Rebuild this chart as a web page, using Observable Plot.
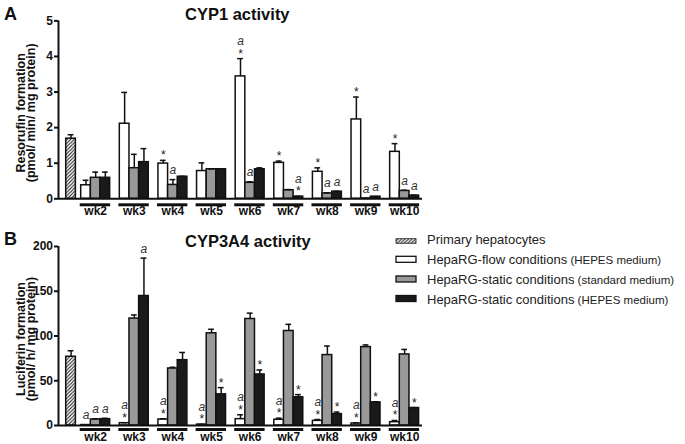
<!DOCTYPE html>
<html><head><meta charset="utf-8">
<script src="https://cdn.jsdelivr.net/npm/d3@7"></script>
<script src="https://cdn.jsdelivr.net/npm/@observablehq/plot@0.6"></script>
<style>
body{margin:0;background:#fff;font-family:"Liberation Sans",Arial,Helvetica,sans-serif;}
#fig{position:relative;width:685px;height:444px;overflow:hidden;background:#fff;}
#fig > svg{position:absolute;left:0;}
</style></head><body><div id="fig"></div>
<script>
// ---------- data ----------
const weeks = ["wk2","wk3","wk4","wk5","wk6","wk7","wk8","wk9","wk10"];
const seriesKeys = ["primary","flow","std","hepes"];
const legendNames = ["Primary hepatocytes","HepaRG-flow conditions","HepaRG-static conditions","HepaRG-static conditions"];
const legendMedia = ["","(HEPES medium)","(standard medium)","(HEPES medium)"];

// Panel A: CYP1 activity (pmol/ min/ mg protein)
const cyp1Title = "CYP1 activity";
const cyp1YLabel = ["Resorufin formation", "(pmol/ min/ mg protein)"];
const cyp1PrimaryMean = [1.69];
const cyp1PrimaryErr  = [0.11];
const cyp1Flow     = [0.38, 2.11, 0.99, 0.78, 3.44, 1.01, 0.76, 2.23, 1.32];
const cyp1FlowErr  = [0.14, 0.88, 0.09, 0.23, 0.50, 0.05, 0.11, 0.63, 0.23];
const cyp1Std      = [0.59, 0.86, 0.39, 0.83, 0.45, 0.24, 0.15, 0.01, 0.22];
const cyp1StdErr   = [0.16, 0.39, 0.15, 0.01, 0.03, 0.02, 0.02, 0.00, 0.02];
const cyp1Hepes    = [0.59, 1.03, 0.62, 0.83, 0.83, 0.06, 0.20, 0.06, 0.09];
const cyp1HepesErr = [0.16, 0.38, 0.01, 0.00, 0.04, 0.01, 0.01, 0.00, 0.01];
const cyp1FlowSig  = ["", "", "*", "", "a*", "*", "*", "*", "*"];
const cyp1StdSig   = ["", "", "a", "", "a", "", "a", "a", "a"];
const cyp1HepesSig = ["", "", "", "", "", "a*", "a", "a", "a"];
const cyp1Ticks = [0, 1, 2, 3, 4, 5];

// Panel B: CYP3A4 activity (pmol/ h/ mg protein)
const cyp3a4Title = "CYP3A4 activity";
const cyp3a4YLabel = ["Luciferin formation", "(pmol/ h/ mg protein)"];
const cyp3a4PrimaryMean = [76.8];
const cyp3a4PrimaryErr  = [6.7];
const cyp3a4Flow     = [0.5, 2.6, 6.7, 1.0, 7.1, 6.4, 5.2, 2.2, 3.7];
const cyp3a4FlowErr  = [0.2, 0.5, 0.8, 0.3, 4.9, 1.8, 1.5, 0.8, 1.9];
const cyp3a4Std      = [6.7, 119.5, 63.7, 103, 119, 105.6, 78.7, 87.6, 79.4];
const cyp3a4StdErr   = [0.8, 4.0, 1.3, 4.5, 6.5, 7.4, 10.1, 2.4, 5.6];
const cyp3a4Hepes    = [7.1, 144.7, 73, 34.8, 57, 31.5, 12.7, 25.8, 19.5];
const cyp3a4HepesErr = [0.9, 42.3, 8.6, 7.5, 5.0, 3.0, 2.3, 0.7, 0.5];
const cyp3a4FlowSig  = ["a", "a*", "a*", "a*", "a*", "a*", "a*", "a*", "a*"];
const cyp3a4StdSig   = ["a", "", "", "", "", "", "", "", ""];
const cyp3a4HepesSig = ["a", "a", "", "*", "*", "*", "*", "*", "*"];
const cyp3a4Ticks = [0, 50, 100, 150, 200];

// ---------- layout / style ----------
const FONT = '"Liberation Sans", Arial, Helvetica, sans-serif';
const PRIMARY_START = 0.8, GROUP_START = 2.35, GROUP_STEP = 4, X_MAX = 37.7;
const FILLS = {primary: "url(#hatch)", flow: "#ffffff", std: "#999999", hepes: "#1a1a1a"};
const INK = "#111";

function buildRows(pm, pe, means, errs, sigs) {
  const rows = [{series: "primary", x1: PRIMARY_START, x2: PRIMARY_START + 1, value: pm[0], err: pe[0], sig: ""}];
  weeks.forEach((w, k) => {
    for (let j = 0; j < 3; j++) {
      const s = GROUP_START + GROUP_STEP * k + j;
      rows.push({series: seriesKeys[j + 1], week: w, x1: s, x2: s + 1, value: means[j][k], err: errs[j][k], sig: sigs[j][k]});
    }
  });
  return rows;
}

function panel(cfg) {
  const rows = buildRows(cfg.pm, cfg.pe, cfg.means, cfg.errs, cfg.sigs);
  const groups = weeks.map((w, k) => ({week: w, start: GROUP_START + GROUP_STEP * k}));
  const cx = d => (d.x1 + d.x2) / 2;
  const top = d => d.value + d.err;
  const yMax = cfg.ticks[cfg.ticks.length - 1];
  const barMarks = seriesKeys.map(s =>
    Plot.rectY(rows.filter(d => d.series === s), {x1: "x1", x2: "x2", y1: 0, y2: "value", fill: FILLS[s], stroke: INK, strokeWidth: 1.5})
  );
  const labelStyle = {frameAnchor: "left", rotate: -90, dy: 3, lineAnchor: "bottom", textAnchor: "middle", fontSize: 12.5, fontWeight: "bold", fill: INK};
  return Plot.plot({
    width: 685, height: cfg.height,
    marginLeft: 58, marginRight: 263, marginTop: cfg.marginTop, marginBottom: cfg.marginBottom,
    x: {domain: [0, X_MAX], axis: null},
    y: {domain: [0, yMax], axis: null},
    style: {fontFamily: FONT, overflow: "visible", background: "transparent", color: INK},
    marks: [
      Plot.axisY({ticks: cfg.ticks, tickFormat: d3.format("d"), tickSize: 4, tickPadding: 1.5, fontSize: 12, fontWeight: "bold", strokeWidth: 2, label: null}),
      Plot.text([cfg.ylabel[0]], {...labelStyle, dx: -34}),
      Plot.text([cfg.ylabel[1]], {...labelStyle, dx: -23.5}),
      ...barMarks,
      Plot.ruleX(rows, {x: cx, y1: "value", y2: top, stroke: INK, strokeWidth: 1.5}),
      Plot.ruleY(rows, {x1: d => cx(d) - 0.3, x2: d => cx(d) + 0.3, y: top, stroke: INK, strokeWidth: 1.5}),
      Plot.ruleX([0], {y1: 0, y2: yMax, stroke: INK, strokeWidth: 2}),
      Plot.ruleY([0], {stroke: INK, strokeWidth: 2}),
      Plot.text(rows.filter(d => d.sig.includes("*")), {x: cx, y: top, text: () => "*", dy: -1, lineAnchor: "bottom", fontSize: 12, fill: "#222"}),
      Plot.text(rows.filter(d => d.sig === "a"), {x: cx, y: top, text: () => "a", dy: -5.5, lineAnchor: "bottom", fontSize: 12, fontStyle: "italic", fill: "#333"}),
      Plot.text(rows.filter(d => d.sig === "a*"), {x: cx, y: top, text: () => "a", dy: -13.5, lineAnchor: "bottom", fontSize: 12, fontStyle: "italic", fill: "#333"}),
      Plot.ruleY(groups, {x1: d => d.start - 0.1, x2: d => d.start + 3.05, y: 0, dy: cfg.underDy, stroke: INK, strokeWidth: 3}),
      Plot.text(groups, {x: d => d.start + 1.5, y: 0, text: "week", dy: cfg.weekDy, lineAnchor: "middle", fontSize: 12, fontWeight: "bold", fill: INK})
    ]
  });
}

const fig = document.getElementById("fig");

const chartA = panel({
  pm: cyp1PrimaryMean, pe: cyp1PrimaryErr,
  means: [cyp1Flow, cyp1Std, cyp1Hepes], errs: [cyp1FlowErr, cyp1StdErr, cyp1HepesErr], sigs: [cyp1FlowSig, cyp1StdSig, cyp1HepesSig],
  ticks: cyp1Ticks, height: 220, marginTop: 20.4, marginBottom: 21.7, underDy: 6, weekDy: 12,
  ylabel: cyp1YLabel
});
chartA.style.top = "0px";
fig.appendChild(chartA);

const chartB = panel({
  pm: cyp3a4PrimaryMean, pe: cyp3a4PrimaryErr,
  means: [cyp3a4Flow, cyp3a4Std, cyp3a4Hepes], errs: [cyp3a4FlowErr, cyp3a4StdErr, cyp3a4HepesErr], sigs: [cyp3a4FlowSig, cyp3a4StdSig, cyp3a4HepesSig],
  ticks: cyp3a4Ticks, height: 224, marginTop: 26, marginBottom: 19, underDy: 4, weekDy: 11.5,
  ylabel: cyp3a4YLabel
});
chartB.style.top = "220px";
fig.appendChild(chartB);

// ---------- overlay: pattern, panel letters, titles, legend ----------
const ov = d3.select(fig).append("svg")
  .attr("width", 685).attr("height", 444)
  .style("top", "0px").style("pointer-events", "none")
  .style("font-family", FONT);
const pat = ov.append("defs").append("pattern")
  .attr("id", "hatch").attr("patternUnits", "userSpaceOnUse")
  .attr("width", 3.5).attr("height", 3.5);
pat.append("rect").attr("width", 3.5).attr("height", 3.5).attr("fill", "#fff");
pat.append("path").attr("d", "M-1,1 l2,-2 M0,3.5 l3.5,-3.5 M2.5,4.5 l2,-2")
  .attr("stroke", "#111").attr("stroke-width", 1);

ov.append("text").attr("x", 4).attr("y", 20).attr("font-size", 18).attr("font-weight", "bold").attr("fill", INK).text("A");
ov.append("text").attr("x", 4).attr("y", 245).attr("font-size", 18).attr("font-weight", "bold").attr("fill", INK).text("B");
ov.append("text").attr("x", 185).attr("y", 20).attr("font-size", 16.5).attr("font-weight", "bold").attr("fill", INK).text(cyp1Title);
ov.append("text").attr("x", 185).attr("y", 247).attr("font-size", 16.5).attr("font-weight", "bold").attr("fill", INK).text(cyp3a4Title);

const legendBaselines = [243.5, 264, 284, 304];
const swatchCenters = [241, 259.3, 279, 298.5];
seriesKeys.forEach((s, i) => {
  const h = i === 0 ? 4.5 : 6;
  ov.append("rect").attr("x", 396).attr("y", swatchCenters[i] - h / 2).attr("width", 20).attr("height", h)
    .attr("fill", FILLS[s]).attr("stroke", INK).attr("stroke-width", i === 0 ? 0.8 : 1.3);
  const t = ov.append("text").attr("x", 427).attr("y", legendBaselines[i]).attr("font-size", 13).attr("fill", "#222");
  t.append("tspan").text(legendNames[i]);
  if (legendMedia[i]) t.append("tspan").attr("font-size", 11.5).text(" " + legendMedia[i]);
});
</script>
</body></html>
